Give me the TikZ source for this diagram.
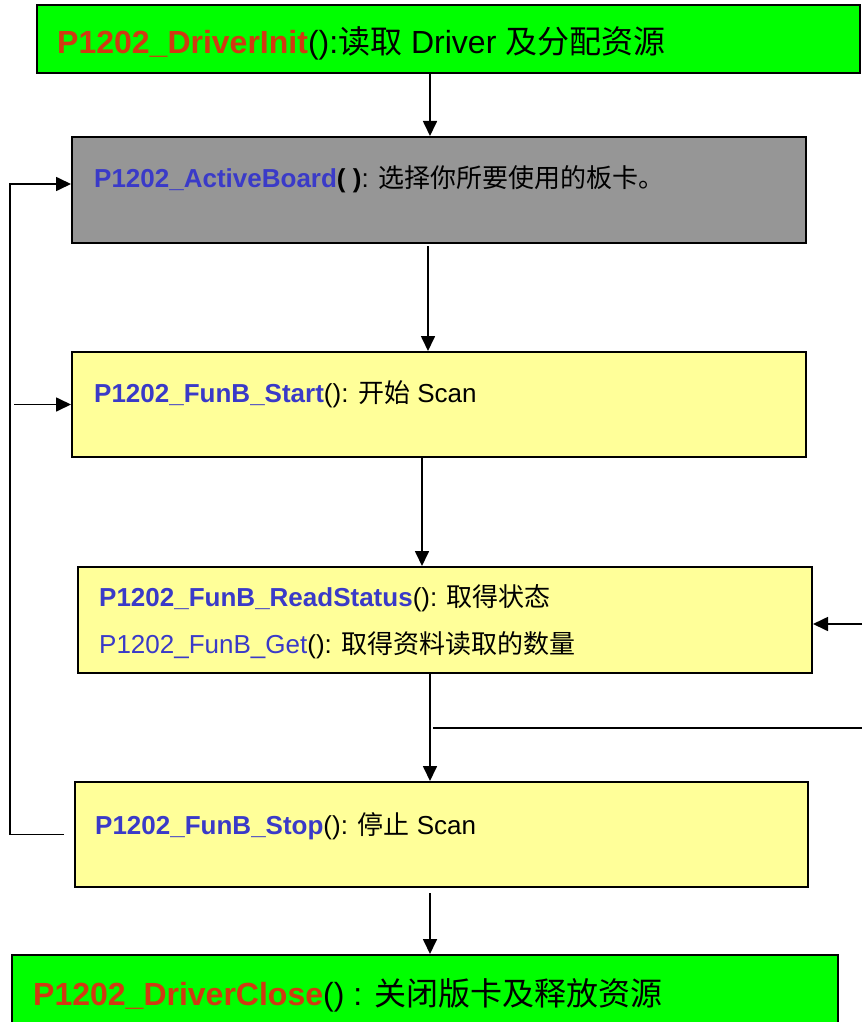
\documentclass[tikz,border=0pt]{standalone}
\usepackage{fontspec}
\setmainfont{Liberation Sans}
\newfontfamily\cjk{Noto Sans CJK SC}
\usetikzlibrary{arrows.meta}
\definecolor{fred}{HTML}{D03A12}
\definecolor{fblue}{HTML}{3A3AC8}
\definecolor{fgreen}{HTML}{00FF00}
\definecolor{fgray}{HTML}{969696}
\definecolor{fyellow}{HTML}{FFFF99}
\newcommand{\zh}[1]{{\cjk #1}}
\begin{document}
\begin{tikzpicture}[x=1pt,y=-1pt,
  boxst/.style={draw=black, line width=2pt, inner sep=0pt},
  lbl/.style={anchor=base west, inner sep=0pt},
  big/.style={font=\fontsize{32}{36}\selectfont},
  small/.style={font=\fontsize{26}{30}\selectfont},
  arr/.style={line width=1.7pt, -{Triangle[length=15pt,width=14pt]}},
  ln/.style={line width=1.7pt}]
\useasboundingbox (0,0) rectangle (862,1022);
\fill[white] (0,0) rectangle (862,1022);
% boxes
\node[boxst, fill=fgreen, minimum width=823pt, minimum height=68pt] (b1) at (448.5,39) {};
\node[boxst, fill=fgray, minimum width=734pt, minimum height=106pt] (b2) at (439,190) {};
\node[boxst, fill=fyellow, minimum width=734pt, minimum height=105pt] (b3) at (439,404.5) {};
\node[boxst, fill=fyellow, minimum width=734pt, minimum height=106pt] (b4) at (445,620) {};
\node[boxst, fill=fyellow, minimum width=733pt, minimum height=105pt] (b5) at (441.5,834.5) {};
\node[boxst, fill=fgreen, minimum width=826pt, minimum height=80pt] (b6) at (425,995) {};
% labels
\node[lbl, big] (t1) at (57,54) {{\color{fred}\bfseries P1202\_DriverInit}():\zh{读取} Driver \zh{及分配资源}};
\node[lbl, small] (t2) at (94,187) {{\color{fblue}\bfseries P1202\_ActiveBoard}{\bfseries( )}: \zh{选择你所要使用的板卡。}};
\node[lbl, small] (t3) at (94,402) {{\color{fblue}\bfseries P1202\_FunB\_Start}(): \zh{开始} Scan};
\node[lbl, small] (t4a) at (99,606) {{\color{fblue}\bfseries P1202\_FunB\_ReadStatus}(): \zh{取得状态}};
\node[lbl, small] (t4b) at (99,653) {{\color{fblue}P1202\_FunB\_Get}(): \zh{取得资料读取的数量}};
\node[lbl, small] (t5) at (95,834) {{\color{fblue}\bfseries P1202\_FunB\_Stop}(): \zh{停止} Scan};
\node[lbl, big] (t6) at (33,1005) {{\color{fred}\bfseries P1202\_DriverClose}() : \zh{关闭版卡及释放资源}};
% helper coordinates
\coordinate (v1) at (430,0);
\coordinate (v2) at (428,0);
\coordinate (v3) at (422,0);
\coordinate (lx) at (10,0);
\coordinate (l3) at (14,0);
\coordinate (lb) at ([xshift=-10pt]b5.west);
\coordinate (rin) at (862,624);
\coordinate (rh1) at (433,728);
\coordinate (rh2) at (862,728);
% connectors
\draw[arr] (b1.south -| v1) -- (b2.north -| v1);
\draw[arr, shorten <=2pt] (b2.south -| v2) -- (b3.north -| v2);
\draw[arr] (b3.south -| v3) -- (b4.north -| v3);
\draw[arr] (b4.south -| v1) -- (b5.north -| v1);
\draw[arr, shorten <=5pt] (b5.south -| v1) -- (b6.north -| v1);
\draw[arr] (rin) -- (rin -| b4.east);
\draw[ln] (rh1) -- (rh2);
\draw[arr] (lb) -- (lb -| lx) |- ([yshift=6pt]b2.west);
\draw[arr] (b3.west -| l3) -- (b3.west);
\end{tikzpicture}
\end{document}
